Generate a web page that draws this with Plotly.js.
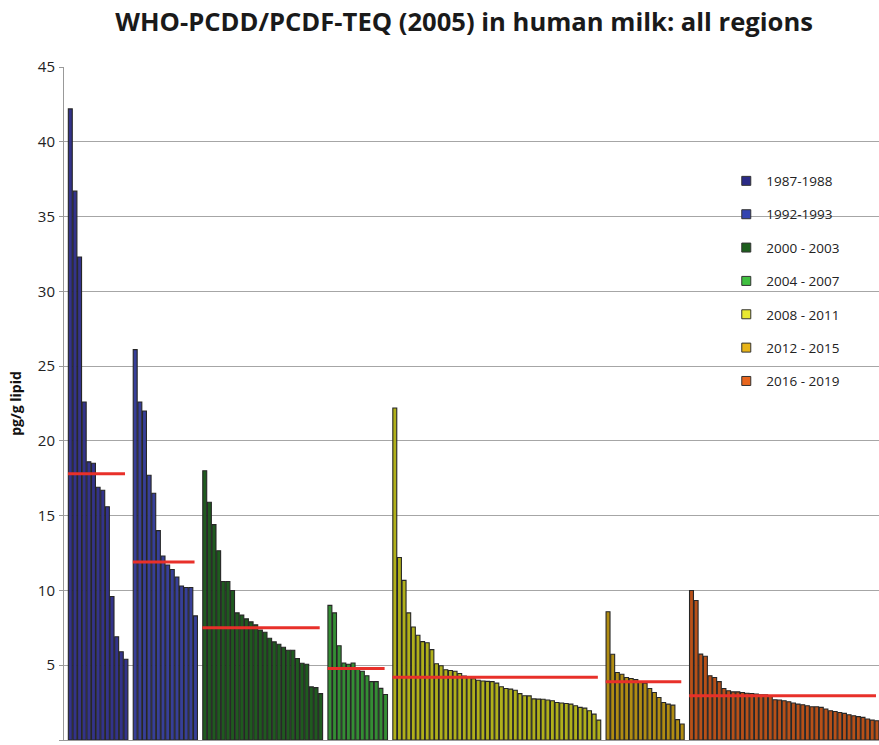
<!DOCTYPE html>
<html>
<head>
<meta charset="utf-8">
<script src="https://cdn.plot.ly/plotly-3.0.1.min.js"></script>
<style>html,body{margin:0;padding:0;background:#fff;}#chart{width:879px;height:745px;}</style>
</head>
<body>
<div id="chart"></div>
<script>
// Period labels (legend)
const periods = ["1987-1988", "1992-1993", "2000 - 2003", "2004 - 2007", "2008 - 2011", "2012 - 2015", "2016 - 2019"];

// Individual country values (pg/g lipid), sorted descending within each period
const v1987 = [42.2, 36.7, 32.3, 22.6, 18.6, 18.5, 16.9, 16.7, 15.6, 9.6, 6.9, 5.9, 5.4];
const v1992 = [26.1, 22.6, 22.0, 17.7, 16.5, 14.0, 12.3, 11.7, 11.4, 10.9, 10.3, 10.2, 10.2, 8.3];
const v2000 = [18.0, 15.9, 14.4, 12.65, 10.6, 10.6, 10.0, 8.5, 8.35, 8.1, 7.9, 7.7, 7.35, 7.2, 6.8, 6.56, 6.4, 6.2, 6.0, 6.0, 5.45, 5.13, 5.07, 3.55, 3.5, 3.1];
const v2004 = [9.0, 8.5, 6.3, 5.15, 5.07, 5.15, 4.73, 4.6, 4.3, 3.9, 3.9, 3.45, 3.04];
const v2008 = [22.2, 12.2, 10.67, 8.5, 7.56, 7.0, 6.58, 6.5, 6.04, 5.1, 4.96, 4.7, 4.65, 4.6, 4.45, 4.27, 4.2, 4.1, 4.0, 3.95, 3.92, 3.9, 3.8, 3.56, 3.44, 3.4, 3.33, 3.1, 2.96, 2.95, 2.75, 2.73, 2.72, 2.67, 2.62, 2.51, 2.47, 2.44, 2.4, 2.29, 2.18, 2.13, 1.96, 1.73, 1.33];
const v2012 = [8.58, 5.73, 4.51, 4.4, 4.18, 4.11, 4.04, 3.84, 3.8, 3.44, 3.18, 2.84, 2.51, 2.4, 2.33, 1.36, 1.07];
const v2016 = [10.0, 9.33, 5.74, 5.6, 4.3, 4.18, 3.9, 3.44, 3.29, 3.22, 3.22, 3.18, 3.13, 3.11, 3.07, 3.02, 3.02, 2.98, 2.69, 2.67, 2.62, 2.56, 2.47, 2.4, 2.36, 2.29, 2.22, 2.22, 2.18, 2.07, 1.96, 1.91, 1.84, 1.78, 1.69, 1.62, 1.56, 1.51, 1.4, 1.33, 1.29];

// Mean per period (red lines)
const periodMeans = [17.8, 11.9, 7.5, 4.78, 4.2, 3.9, 2.96];

const seriesValues = [v1987, v1992, v2000, v2004, v2008, v2012, v2016];
const barColors = ["#33338a", "#373f98", "#1f5a1f", "#348e34", "#b0b01a", "#b08c12", "#b85018"];
const legendColors = ["#2a2a86", "#3344b0", "#1d5e1d", "#40c040", "#e8e830", "#e8b418", "#e8661e"];

const traces = [];
const lines = [];
const legendItems = [];
let pos = 0;
seriesValues.forEach((vals, g) => {
  const xs = vals.map((_, i) => pos + i);
  traces.push({
    type: "bar",
    name: periods[g],
    x: xs,
    y: vals,
    marker: {color: barColors[g], line: {color: "#262626", width: 1.1}},
    showlegend: false,
    hoverinfo: "y"
  });
  lines.push({
    type: "scatter",
    mode: "lines",
    x: [xs[0] - 0.5, xs[xs.length - 1] - 0.2],
    y: [periodMeans[g], periodMeans[g]],
    line: {color: "#e8302a", width: 3},
    showlegend: false,
    hoverinfo: "skip"
  });
  legendItems.push({
    type: "scatter",
    mode: "markers",
    name: periods[g],
    x: [null],
    y: [null],
    marker: {symbol: "square", size: 9, color: legendColors[g], line: {color: "#333", width: 1}},
    legendgroup: "g" + g,
    showlegend: true,
    hoverinfo: "skip"
  });
  pos += vals.length + 1;
});

const layout = {
  width: 879,
  height: 745,
  margin: {l: 64, r: 0, t: 67, b: 5},
  paper_bgcolor: "#fff",
  plot_bgcolor: "#fff",
  bargap: 0.15,
  showlegend: true,
  title: {
    text: "<b>WHO-PCDD/PCDF-TEQ (2005) in human milk: all regions</b>",
    font: {family: "Open Sans, sans-serif", size: 25.6, color: "#1a1a1a"},
    x: 0.528, xref: "container", xanchor: "center",
    y: 0.97, yref: "container", yanchor: "middle"
  },
  xaxis: {
    range: [-1.36, 174.45],
    showticklabels: false,
    showgrid: false,
    zeroline: false,
    showline: true,
    linecolor: "#999",
    linewidth: 1,
    ticks: ""
  },
  yaxis: {
    range: [0, 45],
    tickvals: [0, 5, 10, 15, 20, 25, 30, 35, 40, 45],
    ticktext: ["0", "5", "10", "15", "20", "25", "30", "35", "40", "45"],
    tickfont: {family: "Open Sans, sans-serif", size: 15, color: "#222"},
    showgrid: true,
    gridcolor: "#a6a6a6",
    gridwidth: 1,
    zeroline: false,
    showline: true,
    linecolor: "#999",
    ticks: "outside",
    ticklen: 4,
    tickcolor: "#999",
    ticklabelstandoff: 1,
    title: {
      text: "<b>pg/g lipid</b>",
      font: {family: "Open Sans, sans-serif", size: 14, color: "#111"},
      standoff: 12
    }
  },
  legend: {
    x: 0.8126, xanchor: "left",
    y: 0.8535, yanchor: "top",
    bgcolor: "rgba(255,255,255,0)",
    font: {family: "Open Sans, sans-serif", size: 13.5, color: "#222"},
    traceorder: "grouped",
    tracegroupgap: 12.8,
    itemwidth: 30
  }
};

Plotly.newPlot("chart", traces.concat(lines, legendItems), layout, {displayModeBar: false, staticPlot: true});
</script>
</body>
</html>
